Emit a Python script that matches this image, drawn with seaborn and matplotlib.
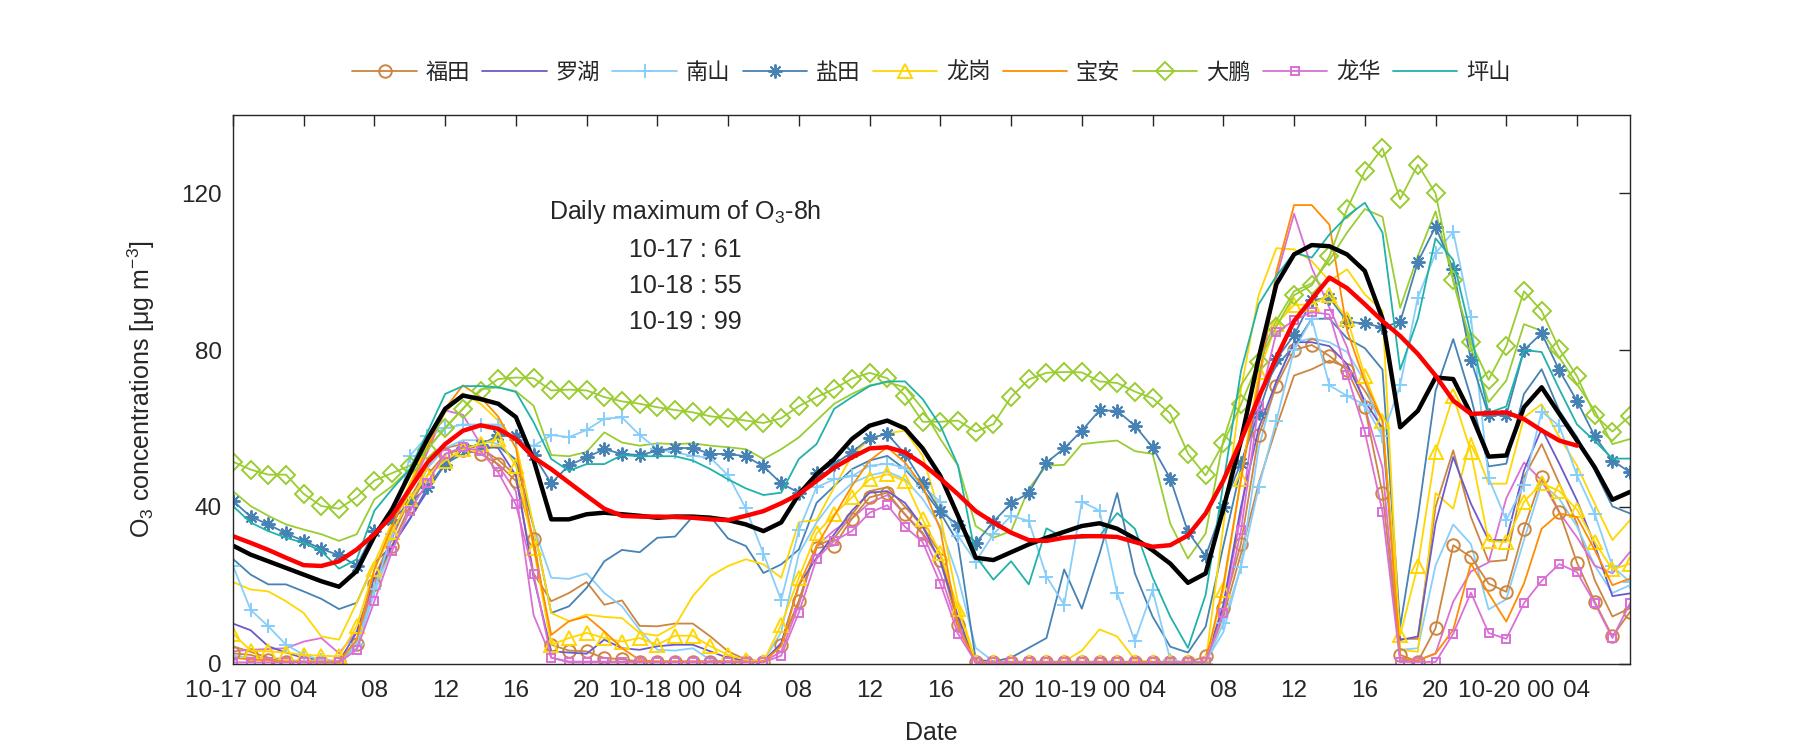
import numpy as np
import pandas as pd
import matplotlib
matplotlib.use("Agg")
import matplotlib.pyplot as plt
import seaborn as sns

# hourly O3, 10-17 00 .. 10-20 07
hours = np.arange(80)

futian = [2.6, 2.2, 0.9, 0.5, 0.3, 0.3, 0.3, 5, 20.2, 30.1, 40.2, 48.1, 53.5, 54.6, 53.5, 50.9, 46.6,
          31.9, 4.8, 3.3, 3.1, 1.4, 1.1, 0.5, 0.5, 0.5, 0.5, 0.5, 0.5, 0.5, 0.5, 4.8, 15.9,
          29.5, 30.1, 37, 42.4, 43.6, 38.1, 33.4, 26.4, 9.9, 0.3, 0.3, 0.3, 0.3, 0.3, 0.3, 0.3, 0.3,
          0.3, 0.3, 0.3, 0.3, 0.3, 1.8, 14.1, 30.6, 58.2, 70.9, 80, 81.3, 78.5, 74.9, 65.4,
          43.4, 2.2, 0.5, 9, 30.2, 27.2, 20.4, 18.3, 34.4, 47.6, 38.7, 25.7, 15.8, 6.9, 13.2]
futian_2 = [4.4, 3, 1.5, 1, 0.5, 0.5, 0.5, 6, 22, 32, 42, 50, 55, 56, 55, 52, 48,
            23, 15.9, 18, 20.8, 15, 16.1, 9.6, 9.5, 10.2, 10.2, 6.9, 3.1, 1, 0.5, 5, 16,
            30, 32, 38, 44, 45, 40, 35, 28, 11, 0.3, 0.3, 0.3, 0.3, 0.3, 0.3, 0.3, 0.3,
            0.3, 0.3, 0.3, 0.3, 0.3, 0.3, 12, 28, 46, 60.3, 73.5, 75.1, 77.3, 75.6, 69.6,
            62, 6.3, 6.3, 40, 54.4, 37.4, 26, 26.4, 47.6, 56, 45.9, 35.7, 21.3, 12, 14.1]
luohu = [10.2, 8.5, 4.4, 2.8, 1.4, 1, 0.5, 8, 22, 30, 37, 44, 51, 55, 55.5, 55, 48,
         22, 3.1, 2.8, 2.5, 6.1, 3.9, 3.5, 4.4, 4.8, 4.8, 3.1, 1.4, 0.9, 0.5, 5.2, 20,
         27, 33, 39, 43.6, 44, 41, 35, 26, 12, 0.3, 0.3, 0.3, 0.3, 0.3, 0.3, 0.3, 0.3,
         0.3, 0.3, 0.3, 0.3, 0.3, 0.3, 15, 40, 60, 72, 82, 82, 81, 76.4, 67,
         60, 6, 6.9, 35.7, 52.7, 40.8, 31.5, 31.5, 49.3, 59.9, 51, 41.6, 30.2, 17.2, 17.9]
nanshan = [25, 13.7, 9.5, 4.8, 2.2, 0.9, 0.5, 5, 19, 33, 53, 58, 60, 61, 61, 61, 57,
           55.5, 58.3, 57.8, 59.6, 62.5, 62.8, 58.3, 54.7, 53.9, 53, 52.5, 48, 39.6, 28, 16.2, 34,
           45, 47, 47.8, 50.5, 51, 50, 45.3, 41.2, 32.6, 26, 33, 37.7, 36.4, 22.2, 15, 41.3, 39,
           18, 5.8, 18.7, 1, 0, 0, 10.3, 24.7, 45, 62, 80, 88, 71, 68.3, 66,
           58, 71, 93.4, 104.7, 110.2, 88.4, 47.4, 36.6, 45.6, 64.3, 60.6, 48, 38.2, 24.8, 20.8]
nanshan_2 = [2, 1.5, 1, 0.8, 0.5, 0.5, 0.5, 4, 18, 30, 40, 50, 55, 57, 57, 56, 52,
             35, 21.9, 21.6, 23, 18, 14.6, 8.6, 3.5, 3.3, 3.9, 0.9, 0.5, 0.5, 0.5, 8, 28,
             36, 42, 46, 48, 49, 47, 42, 35, 22, 4, 0.5, 0.5, 0.5, 0.5, 0.5, 0.5, 0.5,
             0.5, 0.5, 0.5, 0.5, 0.5, 0.5, 8, 25, 55, 72, 82, 83, 82, 79.5, 72,
             58.5, 3.5, 3.9, 25, 35.5, 30.5, 13.8, 16.4, 31.5, 46, 42, 35, 25, 18, 20]
yantian = [41.5, 37.5, 35.5, 33.2, 31.3, 29.3, 27.6, 25, 33.8, 36.6, 41, 45, 50.7, 55, 55.8, 58.2, 58,
           53.2, 46, 50.6, 52.6, 54.7, 53.5, 53.2, 54.3, 55, 55, 53.5, 53.5, 52.9, 50.3, 46, 43.6,
           48.6, 50.9, 53.9, 57.5, 58.6, 53.5, 46.2, 38.9, 35.3, 30.7, 36.2, 40.9, 43.5, 51.3, 54.9, 59.4, 64.6,
           64.5, 60.7, 55.2, 47.2, 33.6, 27.4, 40, 51.3, 64, 77.7, 83.8, 92.7, 93.4, 87.2, 86.8,
           85.8, 87.2, 102.5, 111.5, 100.7, 77.5, 63.4, 63.4, 80, 84.3, 74.8, 67, 58, 51.8, 48.8]
yantian_2 = [26.7, 22.7, 20.2, 20.2, 18.4, 16.5, 13.9, 15.5, 25.7, 30, 36.8, 45, 51, 53.5, 54.5, 55.5, 52,
             35, 12.9, 14.6, 19.3, 26.1, 29, 28.4, 32.1, 32.4, 37.5, 37.5, 31.9, 30, 23.1, 25.3, 29.1,
             41, 45.3, 49.6, 51.8, 53, 49.6, 44.5, 38.5, 30.8, 1, 0.5, 1.5, 4, 6.5, 24, 14, 28,
             43.5, 23, 12, 4.3, 2.8, 9.4, 30, 50, 68, 76, 81, 88, 88, 83, 80.5,
             75, 9.4, 37.4, 69.6, 82.8, 67.9, 50.3, 51, 68.8, 75.1, 64.5, 57.8, 49.3, 40.1, 38.3]
longgang = [7.6, 3.3, 3.1, 2.8, 2.2, 2, 1.8, 9.6, 24.2, 33.6, 42, 48, 51.8, 54.7, 56, 57.3, 50.5,
            29.6, 4.8, 6.5, 7.8, 6.5, 5.6, 6.5, 4.8, 7.1, 7.1, 4.4, 2.2, 0.9, 0.5, 9.9, 21.9,
            33.2, 38.1, 42.4, 47, 48.3, 46.6, 36.8, 28.3, 13.9, 0.3, 0.3, 0.3, 0.3, 0.3, 0.3, 0.3, 0.3,
            0.3, 0.3, 0.3, 0.3, 0.3, 0.3, 18.7, 47.2, 74.3, 86.6, 91.5, 91.7, 94, 88, 73.5,
            62, 7.2, 25, 54, 68.3, 54, 31.3, 31, 41.3, 46, 44, 39.3, 31, 24, 25.5]
longgang_2 = [20.8, 18.9, 18.4, 15.9, 12.9, 6.9, 6.1, 15.5, 25.7, 36, 46, 56, 64, 69, 66.3, 62, 56.4,
              35, 12.9, 10.8, 12.5, 11.9, 11.6, 7.8, 7.1, 9.6, 17.2, 22.3, 24.9, 26.6, 25.3, 21.9, 36.1,
              36.6, 45, 53, 57.3, 58.8, 59.4, 53, 37.7, 15.5, 0.3, 0.3, 0.3, 0.3, 0.3, 0.5, 3.3, 8.7,
              6.9, 1, 0.3, 0.3, 0.3, 0.3, 35, 70, 94, 106, 105.7, 102.7, 97.6, 100.6, 94.2,
              90, 3.5, 3, 43.5, 39.5, 57.6, 45.9, 45.9, 62.8, 66.2, 57.8, 50.5, 40.8, 31.5, 36.6]
baoan = [1.5, 1, 0.8, 0.5, 0.5, 0.5, 0.5, 6, 24, 35, 45, 55, 65, 71, 68, 63, 55,
         30, 7.3, 10.8, 12, 8.2, 3.9, 0.9, 0.5, 0.5, 0.5, 0.5, 0.5, 0.5, 0.5, 4.4, 20,
         30, 37.7, 45.3, 51.8, 55.2, 51.3, 45.3, 34.2, 9.5, 0.3, 0.3, 0.3, 0.3, 0.3, 0.3, 0.3, 0.3,
         0.3, 0.3, 0.3, 0.3, 0.3, 0.3, 20, 47, 72, 100, 117, 117, 112, 85, 72,
         62, 1.3, 0.8, 2.5, 8.6, 25.5, 17.9, 10.7, 20.4, 34.4, 38.3, 37.4, 29, 20, 21.7]
dapeng = [51.5, 49.5, 48.2, 48.2, 43.3, 40.2, 39.5, 42.5, 46.7, 48.6, 50.5, 54.6, 60.2, 65, 69.6, 72.6, 73,
          72.8, 69.7, 69.9, 69.7, 68, 66.9, 66.3, 65.4, 64.7, 64.1, 63.1, 62.6, 62, 61.4, 62.6, 65.7,
          68, 70.1, 72.7, 74.2, 72.8, 68.4, 61.7, 61.7, 62, 59.2, 61.1, 68, 72.5, 74.2, 74.4, 74.3, 72,
          71.6, 69.4, 67.7, 63.8, 53.6, 48, 56.2, 66.2, 77, 86, 94, 96.5, 104, 116, 125.6,
          131.5, 118.5, 127.3, 120, 97.8, 82, 72.4, 81, 95, 90, 80.3, 73.3, 63.4, 59.2, 63.2]
dapeng_2 = [44, 40.2, 37.7, 35.5, 34.2, 33, 31.3, 33, 41.9, 45.3, 49.6, 55, 60, 65, 70, 70.5, 69.5,
            65.8, 53.2, 52.9, 54, 59, 56.4, 55.6, 56.2, 56, 56.2, 55.6, 55.2, 54.7, 52.2, 54.7, 57.7,
            62, 66.3, 68.8, 71, 71.8, 70.5, 65, 57.3, 50.5, 35.1, 32.1, 33.8, 44.6, 50.5, 50.7, 56, 56.5,
            56.9, 54.2, 53.5, 35.7, 26.8, 33.2, 57, 71, 78, 87.5, 95, 97, 103, 110, 116,
            114, 90.8, 104, 115.4, 97.6, 80.7, 66.7, 72.2, 86.6, 84.9, 78.1, 71.3, 64.5, 56, 57.3]
longhua = [0.3, 0.3, 0.3, 0.3, 0.3, 0.3, 0.3, 3.5, 15.9, 28.7, 39, 46.2, 53.5, 55.2, 54.3, 48.8, 40.6,
           22.8, 1.5, 0.3, 0.3, 0.3, 0.3, 0.3, 0.3, 0.3, 0.3, 0.3, 0.3, 0.3, 0.3, 2, 13,
           26.7, 31.3, 33.8, 38.5, 40.4, 34.9, 31, 20.4, 7.6, 0.3, 0.3, 0.3, 0.3, 0.3, 0.3, 0.3, 0.3,
           0.3, 0.3, 0.3, 0.3, 0.3, 0.5, 12.8, 34, 65.8, 84.5, 87.6, 89.7, 89.1, 73.7, 59.2,
           38.7, 0.4, 0.4, 0.4, 7.6, 18.1, 7.8, 6.3, 15.4, 21.1, 25.4, 23.3, 15.4, 6.5, 15.4]
longhua_2 = [3.1, 3.5, 3.7, 3.9, 5.6, 6.5, 2.6, 8.2, 20, 32, 44, 54, 64.6, 63.5, 56, 50.5, 44,
             12.4, 1.5, 0.5, 0.5, 0.5, 0.5, 0.5, 0.5, 0.5, 0.5, 0.5, 0.5, 0.5, 0.5, 3, 15,
             30, 34, 37, 41, 43, 38, 33, 23, 9, 0.3, 0.3, 0.3, 0.3, 0.3, 0.3, 0.3, 0.3,
             0.3, 0.3, 0.3, 0.3, 0.3, 0.5, 14, 38, 71, 98.5, 114.8, 101, 90.8, 80.7, 65.4,
             50, 0.8, 0.8, 2.6, 15.8, 23.5, 25.8, 42.2, 51.3, 46.7, 38.5, 32.2, 25, 23, 28.5]
pingshan = [40.2, 36, 33.8, 32.1, 30.8, 28.7, 24.2, 26.6, 39, 44.5, 49.6, 59, 68.8, 70.8, 70.8, 70.5, 69.3,
            61.6, 52.2, 49.2, 50.9, 50.9, 53.2, 52.9, 52.9, 52.9, 51.8, 49.6, 47, 44.7, 43, 43.6, 52.2,
            56, 65, 68, 70.8, 72, 72, 67.5, 60.7, 50.5, 27.4, 21.4, 26.1, 20.2, 34.5, 32.1, 32.1, 32.5,
            38.4, 34.4, 22, 12, 4, 17.5, 45.9, 74.7, 91.7, 98.9, 104.8, 103.6, 109.5, 114.2, 117.6,
            110, 75, 88, 108.5, 103, 84, 64, 65.6, 80, 79.5, 70, 61, 56.8, 52.3, 52.3]
city_mean = [30.1, 27.8, 26.1, 24.4, 22.7, 21, 19.6, 23.6, 32.5, 39.4, 48.5, 57.3, 65, 68.4, 67.5, 66.3, 62.9,
             52, 36.8, 36.8, 38.1, 38.5, 38.1, 37.7, 37.2, 37.5, 37.5, 37.2, 36.6, 35.5, 33.8, 36, 43.2,
             48.3, 52.2, 57.3, 60.7, 62, 60, 54.9, 47.9, 37.7, 27, 26.4, 28.4, 30.4, 32.1, 33.6, 35.1, 35.8,
             34.4, 31.9, 28.9, 25.5, 20.6, 23, 39.5, 56.9, 78, 96.8, 104.4, 106.8, 106.5, 104.4, 100.2,
             88, 60.3, 64.5, 73, 72.6, 63.7, 52.8, 53.1, 65.4, 70.5, 63.7, 56.9, 50.1, 41.8, 43.8]
o3_8h = [32.5, 30.8, 29, 27, 25.1, 24.9, 26.1, 29.1, 33, 37.7, 44.5, 51.3, 56, 59.4, 60.8, 59.9, 57.3,
         52.6, 49.6, 46.2, 42.8, 39.5, 37.7, 37.5, 37.5, 37.4, 37.2, 36.8, 36.6, 37.7, 38.9, 40.9, 43.2,
         46.6, 50, 52.6, 54.9, 55.2, 53.9, 50.9, 47.2, 43.2, 38.9, 36, 33.4, 31.5, 31.3, 32.1, 32.5, 32.5,
         32.3, 31, 29.8, 30.2, 32.7, 38.3, 46.7, 56.9, 67.9, 78.1, 87.4, 93, 98.5, 95.8, 91.7,
         87.4, 83.6, 79, 73.5, 67.1, 63.7, 63.9, 64.1, 62.4, 59.5, 56.9, 55.6, np.nan, np.nan, np.nan]

tick_pos = list(range(0, 80, 4))
tick_labels = ['10-17 00', '04', '08', '12', '16', '20',
               '10-18 00', '04', '08', '12', '16', '20',
               '10-19 00', '04', '08', '12', '16', '20',
               '10-20 00', '04']
daily_max = ['10-17 : 61', '10-18 : 55', '10-19 : 99']

names = ['福田', '罗湖', '南山', '盐田', '龙岗', '宝安', '大鹏', '龙华', '坪山']
colors = ['#CD853F', '#6A5ACD', '#87CEFA', '#4682B4', '#FFD700', '#FF8C00', '#9ACD32', '#DA70D6', '#20B2AA']
markers = ['o', None, '+', (8, 2, 0), '^', None, 'D', 's', None]
msizes = [9, 0, 10, 10, 10, 0, 9, 6, 0]
main = [futian, luohu, nanshan, yantian, longgang, baoan, dapeng, longhua, pingshan]
extra = [(futian_2, 0), (nanshan_2, 2), (yantian_2, 3), (longgang_2, 4), (dapeng_2, 6), (longhua_2, 7)]

sns.set_style('white')
plt.rcParams['font.family'] = ['Liberation Sans', 'DejaVu Sans']
plt.rcParams['mathtext.default'] = 'regular'

fig = plt.figure(figsize=(18, 7.5), dpi=100)
ax = fig.add_axes([0.1294, 0.1153, 0.7762, 0.7314])

for vals, i in extra:
    sns.lineplot(x=hours, y=vals, ax=ax, color=colors[i], lw=1.3, legend=False)

handles = []
for vals, c, m, ms in zip(main, colors, markers, msizes):
    if m is None:
        sns.lineplot(x=hours, y=vals, ax=ax, color=c, lw=1.3, legend=False)
    else:
        sns.lineplot(x=hours, y=vals, ax=ax, color=c, lw=1.3, marker=m, markersize=ms,
                     markerfacecolor='none', markeredgecolor=c, markeredgewidth=1.4,
                     legend=False)
    handles.append(ax.lines[-1])

sns.lineplot(x=hours, y=city_mean, ax=ax, color='black', lw=3.2, legend=False)
sns.lineplot(x=hours, y=o3_8h, ax=ax, color='red', lw=3.2, legend=False)

ax.set_xlim(0, 79)
ax.set_ylim(0, 140)
ax.set_xticks(tick_pos)
ax.set_xticklabels(tick_labels)
ax.set_yticks([0, 40, 80, 120])
ax.tick_params(direction='in', length=8, width=1, top=True, right=True,
               labelsize=17.5, colors='#262626')
ax.tick_params(axis='x', pad=12)
ax.tick_params(axis='y', pad=8)
for s in ax.spines.values():
    s.set_linewidth(1.0)
    s.set_color('#262626')

ax.set_xlabel('Date', fontsize=18, color='#262626')
ax.set_ylabel('O$_3$ concentrations [$\\mu$g m$^{-3}$]', fontsize=18, color='#262626')
ax.xaxis.set_label_coords(0.5, -0.105)
ax.yaxis.set_label_coords(-0.054, 0.5)

ax.text(0.324, 0.823, 'Daily maximum of O$_3$-8h', transform=ax.transAxes,
        ha='center', va='center', fontsize=18)
for k, t in enumerate(daily_max):
    ax.text(0.324, 0.754 - 0.066 * k, t, transform=ax.transAxes,
            ha='center', va='center', fontsize=18)

ax.legend(handles, names, loc='center', bbox_to_anchor=(0.5, 1.078), ncol=9,
          frameon=False, handlelength=2.9, handletextpad=0.4, columnspacing=0.55,
          prop={'family': ['Noto Sans CJK SC', 'DejaVu Sans'], 'size': 16})

fig.savefig('out.png', dpi=100)
